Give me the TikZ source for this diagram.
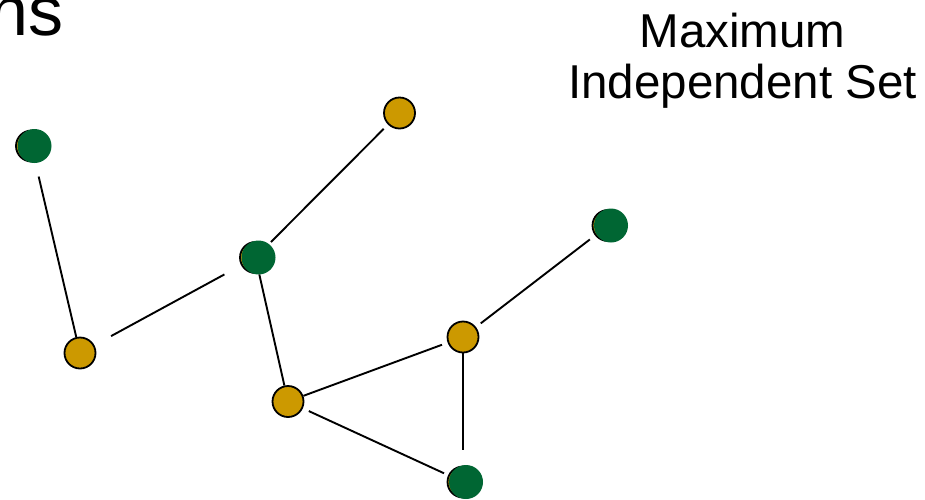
\documentclass[tikz,border=0pt]{standalone}
\usepackage{fontspec}
\setmainfont{Liberation Sans}
\definecolor{setgold}{RGB}{204,153,0}
\definecolor{setgreen}{RGB}{0,102,51}
\begin{document}
\begin{tikzpicture}[x=1pt,y=-1pt,
    vtx/.style={circle,draw,line width=1.8pt,fill=setgold,minimum size=31pt,inner sep=0pt},
    picked/.style={label={[xshift=3pt,circle,fill=setgreen,minimum size=34pt,inner sep=0pt]center:}},
    edge/.style={line width=1.9pt}]
        \useasboundingbox (0,0) rectangle (925,499);

        \node at (64,35) [anchor=base east,inner sep=0pt,font=\fontsize{70}{80}\selectfont] (t100) {ns};
        \node at (742.5,98) [anchor=base,inner sep=0pt,align=center,font=\fontsize{47.5}{51}\selectfont] (t200) {Maximum\\Independent Set};

        \node at (31.5,146) [vtx,picked] (v100) {};
        \node at (399.5,113) [vtx] (v200) {};
        \node at (255.5,257.5) [vtx,picked] (v300) {};
        \node at (608,225.5) [vtx,picked] (v400) {};
        \node at (80,353) [vtx] (v500) {};
        \node at (463,337) [vtx] (v600) {};
        \node at (288,401.5) [vtx] (v700) {};
        \node at (463,482) [vtx,picked] (v800) {};

        \draw[edge,shorten <=15pt] (v100)--(v500);
        \draw[edge,shorten <=19pt,shorten >=19pt] (v500)--(v300);
        \draw[edge,shorten <=5.5pt,shorten >=6pt] (v300)--(v200);
        \draw[edge,shorten <=1pt] (v300)--(v700);
        \draw[edge,shorten >=6pt] (v700)--(v600);
        \draw[edge,shorten <=6.5pt,shorten >=4.5pt] (v700)--(v800);
        \draw[edge,shorten >=15.5pt] (v600)--(v800);
        \draw[edge,shorten <=6pt,shorten >=6.5pt] (v600)--(v400);

    \end{tikzpicture}
\end{document}
